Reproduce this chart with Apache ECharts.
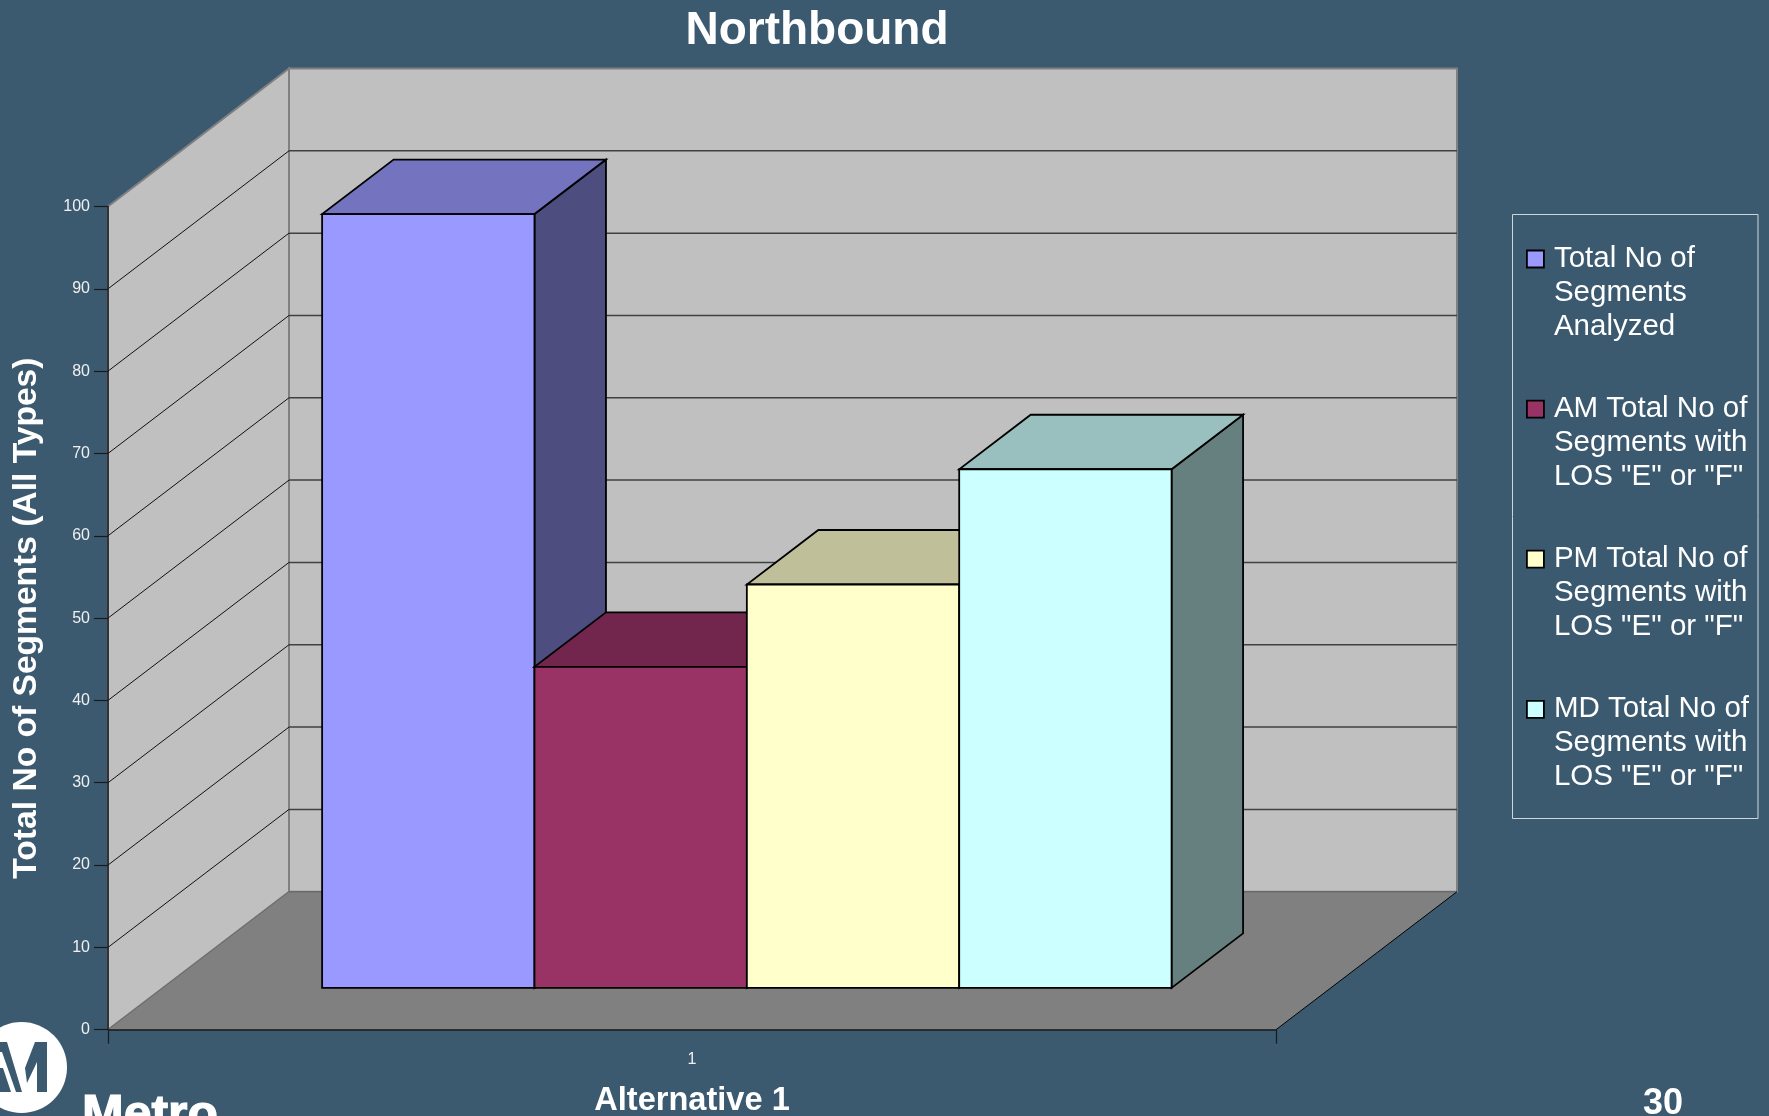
<!DOCTYPE html>
<html>
<head>
<meta charset="utf-8">
<style>html,body{margin:0;padding:0;background:#3b5a70;overflow:hidden}#chart{width:1769px;height:1116px}</style>
<script src="https://cdn.jsdelivr.net/npm/echarts@6/dist/echarts.min.js"></script>
</head>
<body>
<div id="chart"></div>
<script>
const categories = ['1'];
const tickValues = [10, 20, 30, 40, 50, 60, 70, 80, 90];
const totalSegments = [94];
const amSegments = [39];
const pmSegments = [49];
const mdSegments = [63];
const seriesNames = [
  'Total No of\nSegments\nAnalyzed',
  'AM Total No of\nSegments with\nLOS "E" or "F"',
  'PM Total No of\nSegments with\nLOS "E" or "F"',
  'MD Total No of\nSegments with\nLOS "E" or "F"'
];
const FONT = '"Liberation Sans", Arial, sans-serif';
const BG = '#3b5a70';
const DX = 181, DY = 138;           // oblique projection of the full floor depth
const NEAR = 0.303, FAR = 0.698;    // bar depth within the floor
const GAP = 1.5;                    // Excel gap width, in bar widths

function bandLeft(api) { return api.coord([0, 0])[0] - api.size([1, 0])[0] / 2; }
function proj(p, d) { return [p[0] + DX * d, p[1] - DY * d]; }

function renderWalls(params, api) {
  const band = api.size([1, 0])[0], x0 = bandLeft(api), x1 = x0 + band;
  const y0 = api.coord([0, 0])[1], y1 = api.coord([0, 100])[1];
  const fl = [x0, y0], fr = [x1, y0], tl = [x0, y1], tr = [x1, y1];
  const poly = (pts, fill, stroke, w) => ({ type: 'polygon', shape: { points: pts },
    style: { fill: fill, stroke: stroke || null, lineWidth: w || 0 } });
  const line = (a, b, col, w) => ({ type: 'line',
    shape: { x1: a[0], y1: a[1], x2: b[0], y2: b[1] }, style: { stroke: col, lineWidth: w, fill: null } });
  return { type: 'group', children: [
    poly([proj(fl, 1), proj(fr, 1), proj(tr, 1), proj(tl, 1)], '#c0c0c0', '#808080', 2),
    poly([fl, proj(fl, 1), proj(tl, 1), tl], '#c0c0c0', '#808080', 2),
    poly([fl, fr, proj(fr, 1), proj(fl, 1)], '#808080'),
    line(proj(fl, 1), proj(fr, 1), '#6a6a6a', 1.5),
    line(fl, proj(fl, 1), '#6a6a6a', 1),
    line(fr, proj(fr, 1), '#000', 1)
  ]};
}

function renderGrid(params, api) {
  const band = api.size([1, 0])[0], x0 = bandLeft(api), x1 = x0 + band;
  const y = api.coord([0, api.value(1)])[1];
  const l = [x0, y], r = [x1, y];
  const lb = proj(l, 1), rb = proj(r, 1);
  return { type: 'group', children: [
    { type: 'line', shape: { x1: l[0], y1: l[1], x2: lb[0], y2: lb[1] },
      style: { stroke: '#111', lineWidth: 1 } },
    { type: 'line', shape: { x1: lb[0], y1: lb[1], x2: rb[0], y2: rb[1] },
      style: { stroke: '#404040', lineWidth: 1.5 } }
  ]};
}

function makeBar(index) {
  return function (params, api) {
    const band = api.size([1, 0])[0];
    const w = band / (4 + GAP);
    const x0 = bandLeft(api) + (GAP / 2 + index) * w, x1 = x0 + w;
    const y0 = api.coord([0, 0])[1], yv = api.coord([0, api.value(1)])[1];
    const a = proj([x0, y0], NEAR), b = proj([x1, y0], NEAR);
    const c = proj([x1, yv], NEAR), d = proj([x0, yv], NEAR);
    const bb = proj([x1, y0], FAR), cb = proj([x1, yv], FAR), db = proj([x0, yv], FAR);
    const fill = api.visual('color');
    const st = (f) => ({ fill: f, stroke: '#000', lineWidth: 1.8, lineJoin: 'miter' });
    const shade = (k) => {
      const col = echarts.color.parse(fill);
      return 'rgb(' + Math.round(col[0] * k) + ',' + Math.round(col[1] * k) + ',' + Math.round(col[2] * k) + ')';
    };
    return { type: 'group', children: [
      { type: 'polygon', shape: { points: [b, bb, cb, c] }, style: st(shade(0.5)) },
      { type: 'polygon', shape: { points: [d, c, cb, db] }, style: st(shade(0.75)) },
      { type: 'polygon', shape: { points: [a, b, c, d] }, style: st(fill) }
    ]};
  };
}

function barSeries(i, values, color) {
  return {
    type: 'custom', name: seriesNames[i], coordinateSystem: 'cartesian2d',
    encode: { x: 0, y: 1 }, renderItem: makeBar(i), silent: true,
    itemStyle: { color: color },
    data: values.map((v, k) => [k, v])
  };
}

const chart = echarts.init(document.getElementById('chart'), null, { renderer: 'canvas', width: 1769, height: 1116 });
chart.setOption({
  animation: false,
  backgroundColor: BG,
  textStyle: { fontFamily: FONT },
  title: {
    text: 'Northbound', left: 812, top: 26, textAlign: 'center', textVerticalAlign: 'middle',
    textStyle: { color: '#fff', fontFamily: FONT, fontWeight: 'bold', fontSize: 46 }
  },
  grid: { left: 108, right: 493, top: 206.5, bottom: 86.3, outerBoundsMode: 'none', containLabel: false },
  xAxis: {
    type: 'category', data: categories, z: 10,
    name: 'Alternative 1', nameLocation: 'middle', nameGap: 54.5,
    nameTextStyle: { color: '#fff', fontFamily: FONT, fontWeight: 'bold', fontSize: 32.6 },
    axisLine: { lineStyle: { color: '#1a1a1a', width: 1.5 } },
    axisTick: { show: true, length: 14, lineStyle: { color: '#1a1a1a', width: 1.2 } },
    axisLabel: { color: '#f0f0f0', fontFamily: FONT, fontSize: 16, margin: 22 },
    splitLine: { show: false }
  },
  yAxis: {
    type: 'value', min: 0, max: 100, interval: 10, z: 10,
    name: 'Total No of Segments (All Types)', nameLocation: 'middle', nameGap: 64,
    nameTextStyle: { color: '#fff', fontFamily: FONT, fontWeight: 'bold', fontSize: 33.6 },
    axisLine: { show: true, lineStyle: { color: '#1a1a1a', width: 1.5 } },
    axisTick: { show: true, length: 14, lineStyle: { color: '#1a1a1a', width: 1.2 } },
    axisLabel: { color: '#f0f0f0', fontFamily: FONT, fontSize: 16, margin: 18 },
    splitLine: { show: false }
  },
  legend: {
    orient: 'vertical', left: 1526, top: 174, padding: 0, itemGap: -19.9,
    itemWidth: 17, itemHeight: 17, itemStyle: { borderColor: '#000', borderWidth: 1.8 },
    icon: 'rect', selectedMode: false, data: seriesNames,
    formatter: (n) => '\n\n' + n,
    textStyle: { color: '#fff', fontFamily: FONT, fontSize: 29.5, lineHeight: 34, padding: [0, 0, 0, 5] }
  },
  series: [
    { type: 'custom', name: 'walls', coordinateSystem: 'cartesian2d', silent: true,
      encode: { x: 0, y: 1 }, renderItem: renderWalls, data: [[0, 0]] },
    { type: 'custom', name: 'gridlines', coordinateSystem: 'cartesian2d', silent: true,
      encode: { x: 0, y: 1 }, renderItem: renderGrid, data: tickValues.map((v) => [0, v]) },
    barSeries(0, totalSegments, '#9999ff'),
    barSeries(1, amSegments, '#993366'),
    barSeries(2, pmSegments, '#ffffcc'),
    barSeries(3, mdSegments, '#ccffff')
  ],
  graphic: [
    { type: 'rect', silent: true, z: 1, shape: { x: 1512.5, y: 214.5, width: 245.5, height: 604 },
      style: { fill: null, stroke: '#cfd6db', lineWidth: 1 } },
    { type: 'circle', silent: true, shape: { cx: 21.5, cy: 1067.5, r: 45.5 }, style: { fill: '#fff' } },
    { type: 'polygon', silent: true, shape: { points: [[35,1042],[47,1042],[47,1092],[37,1092],[37,1062],[27,1083],[25,1068]] }, style: { fill: BG } },
    { type: 'polygon', silent: true, shape: { points: [[0,1042],[7,1042],[22,1092],[16,1092],[2,1052],[0,1052]] }, style: { fill: BG } },
    { type: 'polygon', silent: true, shape: { points: [[0,1068],[3,1068],[11,1092],[0,1092]] }, style: { fill: BG } },
    { type: 'text', silent: true, style: { text: 'Metro', x: 82, y: 1116, verticalAlign: 'middle', fill: '#fff',
        stroke: '#fff', lineWidth: 1.2, font: 'bold 50px ' + FONT } },
    { type: 'text', silent: true, style: { text: '30', x: 1663, y: 1104, align: 'center', verticalAlign: 'middle', fill: '#fff',
        font: 'bold 36px ' + FONT } }
  ]
});
</script>
</body>
</html>
